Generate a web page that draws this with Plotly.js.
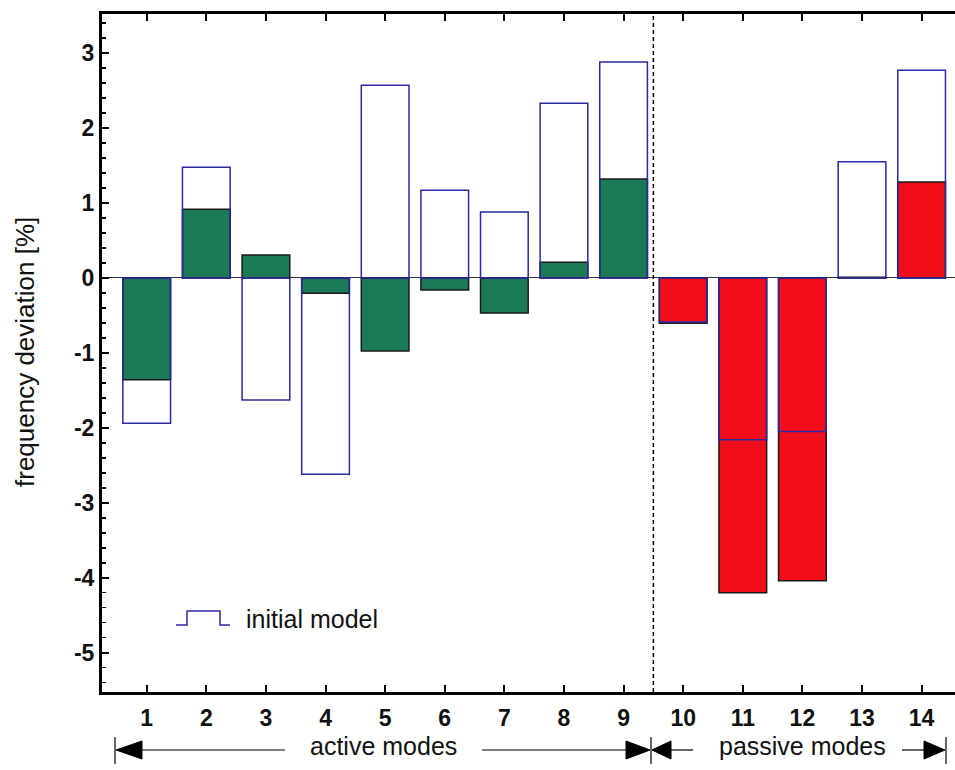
<!DOCTYPE html>
<html><head><meta charset="utf-8">
<script src="https://cdn.plot.ly/plotly-3.0.1.min.js"></script>
<style>html,body{margin:0;padding:0;background:#fff}#chart{width:955px;height:770px}</style>
</head><body><div id="chart"></div>
<script>
// ---- data ----
const modes = [1,2,3,4,5,6,7,8,9,10,11,12,13,14];
const tickLabels = ['1','2','3','4','5','6','7','8','9','10','11','12','13','14'];
const initialModel = [-1.94,1.475,-1.63,-2.62,2.57,1.17,0.88,2.33,2.88,-0.59,-2.16,-2.05,1.55,2.77];
const updatedModel = [-1.36,0.915,0.305,-0.205,-0.975,-0.16,-0.47,0.21,1.32,-0.605,-4.20,-4.04,0.01,1.28];
const modeGroup = ['active','active','active','active','active','active','active','active','active','passive','passive','passive','passive','passive'];
const yTicks = [-5,-4,-3,-2,-1,0,1,2,3];
const yTickLabels = ['-5','-4','-3','-2','-1','0','1','2','3'];
const groupSeparator = 9.5;

// ---- styling ----
const GREEN = '#1b7a55', RED = '#f20d1a', NAVY = '#2a2aa0';
const FONT = 'Liberation Sans, Arial, Helvetica, sans-serif';
const W = 955, H = 770, L = 102, R = 0, T = 14, B = 78;
const px = v => (v - L) / (W - L - R);
const py = v => (H - B - v) / (H - T - B);

const updatedTrace = {
  type: 'bar', x: modes, y: updatedModel, width: 0.8,
  marker: { color: modeGroup.map(g => g === 'active' ? GREEN : RED),
            line: { color: '#1a1a1a', width: 1.5 } },
  hoverinfo: 'skip', showlegend: false
};
const initialTrace = {
  type: 'bar', x: modes, y: initialModel, width: 0.8, name: 'initial model',
  marker: { color: 'rgba(0,0,0,0)', line: { color: NAVY, width: 1.5 } },
  hoverinfo: 'skip', showlegend: false
};

const arrowY = 750;
const lineStyle = { color: '#000', width: 1.2 };
const shapes = [
  { type: 'line', xref: 'x', yref: 'paper', x0: groupSeparator, x1: groupSeparator, y0: 0, y1: 1,
    line: { color: '#000', width: 1.5, dash: '4px,3px' } },
  // bottom arrows
  { type: 'line', xref: 'paper', yref: 'paper', x0: px(140), x1: px(285), y0: py(arrowY), y1: py(arrowY), line: lineStyle },
  { type: 'line', xref: 'paper', yref: 'paper', x0: px(482), x1: px(630), y0: py(arrowY), y1: py(arrowY), line: lineStyle },
  { type: 'line', xref: 'paper', yref: 'paper', x0: px(668), x1: px(693), y0: py(arrowY), y1: py(arrowY), line: lineStyle },
  { type: 'line', xref: 'paper', yref: 'paper', x0: px(902), x1: px(928), y0: py(arrowY), y1: py(arrowY), line: lineStyle },
  { type: 'path', xref: 'paper', yref: 'paper', fillcolor: '#000', line: { color: '#000', width: 1 },
    path: `M${px(116)},${py(arrowY)} L${px(142)},${py(arrowY-9)} L${px(142)},${py(arrowY+9)} Z` },
  { type: 'path', xref: 'paper', yref: 'paper', fillcolor: '#000', line: { color: '#000', width: 1 },
    path: `M${px(650)},${py(arrowY)} L${px(626)},${py(arrowY-9)} L${px(626)},${py(arrowY+9)} Z` },
  { type: 'path', xref: 'paper', yref: 'paper', fillcolor: '#000', line: { color: '#000', width: 1 },
    path: `M${px(652)},${py(arrowY)} L${px(671)},${py(arrowY-9)} L${px(671)},${py(arrowY+9)} Z` },
  { type: 'path', xref: 'paper', yref: 'paper', fillcolor: '#000', line: { color: '#000', width: 1 },
    path: `M${px(945)},${py(arrowY)} L${px(924)},${py(arrowY-9)} L${px(924)},${py(arrowY+9)} Z` },
  { type: 'line', xref: 'paper', yref: 'paper', x0: px(115), x1: px(115), y0: py(737), y1: py(764), line: lineStyle },
  { type: 'line', xref: 'paper', yref: 'paper', x0: px(651), x1: px(651), y0: py(737), y1: py(764), line: lineStyle },
  { type: 'line', xref: 'paper', yref: 'paper', x0: px(946), x1: px(946), y0: py(737), y1: py(764), line: lineStyle },
  // legend symbol
  { type: 'path', xref: 'paper', yref: 'paper', line: { color: NAVY, width: 1.5 },
    path: `M${px(176)},${py(625)} L${px(187)},${py(625)} L${px(187)},${py(611)} L${px(220)},${py(611)} L${px(220)},${py(625)} L${px(230)},${py(625)}` }
];

const annotations = [
  { text: 'frequency deviation [%]', xref: 'paper', yref: 'paper', x: px(25), y: py(352),
    textangle: -90, showarrow: false, xanchor: 'center', yanchor: 'middle',
    font: { family: FONT, size: 26, color: '#111' } },
  { text: 'initial model', xref: 'paper', yref: 'paper', x: px(244), y: py(619),
    showarrow: false, xanchor: 'left', yanchor: 'middle',
    font: { family: FONT, size: 25, color: '#111' } },
  { text: 'active modes', xref: 'paper', yref: 'paper', x: px(383), y: py(746),
    showarrow: false, xanchor: 'center', yanchor: 'middle',
    font: { family: FONT, size: 25, color: '#111' } },
  { text: 'passive modes', xref: 'paper', yref: 'paper', x: px(802), y: py(746),
    showarrow: false, xanchor: 'center', yanchor: 'middle',
    font: { family: FONT, size: 25, color: '#111' } }
];

const layout = {
  width: W, height: H,
  margin: { l: L, r: R, t: T, b: B, pad: 0 },
  paper_bgcolor: '#fff', plot_bgcolor: '#fff',
  barmode: 'overlay', showlegend: false, hovermode: false,
  xaxis: {
    range: [0.25, 14.56], tickvals: modes, ticktext: tickLabels,
    ticks: 'inside', ticklen: 7, tickwidth: 2, tickcolor: '#000',
    showline: true, linewidth: 3, linecolor: '#000', mirror: 'allticks',
    showgrid: false, zeroline: false, automargin: false, ticklabelstandoff: 3,
    tickfont: { family: FONT, size: 23, weight: 'bold', color: '#111' }
  },
  yaxis: {
    range: [-5.524, 3.52], tickvals: yTicks, ticktext: yTickLabels,
    ticks: 'inside', ticklen: 7, tickwidth: 2, tickcolor: '#000',
    minor: { dtick: 0.2, ticks: 'inside', ticklen: 4, tickwidth: 1.5, tickcolor: '#000', showgrid: false },
    showline: true, linewidth: 3, linecolor: '#000', mirror: false,
    showgrid: false, zeroline: true, zerolinecolor: '#333', zerolinewidth: 1, automargin: false,
    tickfont: { family: FONT, size: 23, weight: 'bold', color: '#111' }
  },
  shapes: shapes, annotations: annotations
};

Plotly.newPlot('chart', [updatedTrace, initialTrace], layout, { displayModeBar: false, staticPlot: true });
</script></body></html>
